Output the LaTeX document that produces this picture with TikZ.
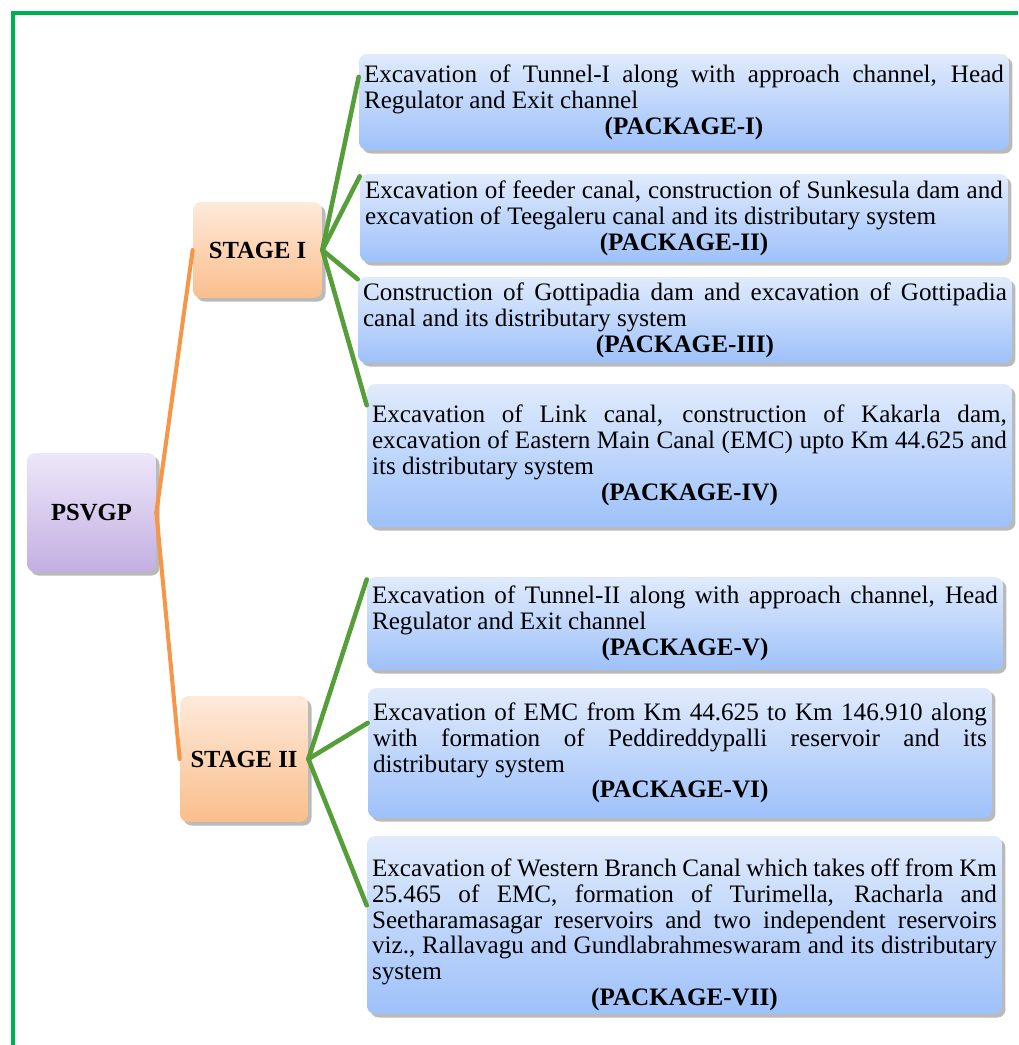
\documentclass[tikz,border=0pt]{standalone}
\usepackage{fontspec}
\setmainfont{Liberation Serif}
\usetikzlibrary{shadows}
\usetikzlibrary{calc}

\definecolor{framegreen}{RGB}{0,176,80}
\definecolor{twiggreen}{RGB}{86,158,58}
\definecolor{branchorange}{RGB}{247,150,70}
\definecolor{pkgtop}{RGB}{224,235,252}
\definecolor{pkgbot}{RGB}{158,193,250}
\definecolor{stagetop}{RGB}{254,234,218}
\definecolor{stagebot}{RGB}{250,190,140}
\definecolor{roottop}{RGB}{237,231,249}
\definecolor{rootbot}{RGB}{195,175,226}

\newcommand\pkgtag[1]{\par{\centering\bfseries #1\par}}

\tikzstyle{box} = [rounded corners=0.16cm, inner xsep=0.1cm, inner ysep=0pt, drop shadow={shadow xshift=2pt, shadow yshift=-2pt, opacity=0.45, fill=black!60}]
\tikzstyle{pkg} = [box, top color=pkgtop, bottom color=pkgbot, align=justify, font=\fontsize{14.3}{14.7}\selectfont]
\tikzstyle{stage} = [box, top color=stagetop, bottom color=stagebot, font=\fontsize{14}{16}\selectfont\bfseries]
\tikzstyle{root} = [box, top color=roottop, bottom color=rootbot, font=\fontsize{14}{16}\selectfont\bfseries]
\tikzstyle{branch} = [branchorange, line width=2.3pt]
\tikzstyle{twig} = [twiggreen, line width=2.6pt]

\begin{document}
\begin{tikzpicture}[x=0.02cm, y=-0.02cm, line cap=round]

  \useasboundingbox (0,0) rectangle (1018,1045);

  % frame
  \draw[framegreen, line width=2.3pt, line cap=butt] (13,1045) -- (13,13) -- (1018,13);

  % root and stages
  \node[root, minimum width=2.58cm, minimum height=2.38cm] (psvgp) at (91.5,512.5) {PSVGP};
  \node[stage, minimum width=2.58cm, minimum height=1.92cm] (stageI) at (257.5,250) {STAGE I};
  \node[stage, minimum width=2.56cm, minimum height=2.52cm] (stageII) at (244,759) {STAGE II};

  % Stage I packages
  \node[pkg, minimum width=13cm, minimum height=1.92cm, text width=12.8cm] (pkgI) at (684,102)
    {Excavation of Tunnel-I along with approach channel, Head\linebreak Regulator and Exit channel\pkgtag{(PACKAGE-I)}};
  \node[pkg, minimum width=12.96cm, minimum height=1.76cm, text width=12.76cm] (pkgII) at (684,218)
    {Excavation of feeder canal, construction of Sunkesula dam and\linebreak excavation of Teegaleru canal and its distributary system\pkgtag{(PACKAGE-II)}};
  \node[pkg, minimum width=13.08cm, minimum height=1.72cm, text width=12.88cm] (pkgIII) at (685,320)
    {Construction of Gottipadia dam and excavation of Gottipadia\linebreak canal and its distributary system\pkgtag{(PACKAGE-III)}};
  \node[pkg, minimum width=12.9cm, minimum height=2.86cm, text width=12.7cm] (pkgIV) at (689.5,455.5)
    {Excavation of Link canal, construction of Kakarla dam,\linebreak excavation of Eastern Main Canal (EMC) upto Km 44.625 and\linebreak its distributary system\pkgtag{(PACKAGE-IV)}};

  % Stage II packages
  \node[pkg, minimum width=12.72cm, minimum height=1.86cm, text width=12.52cm] (pkgV) at (685,623.5)
    {Excavation of Tunnel-II along with approach channel, Head\linebreak Regulator and Exit channel\pkgtag{(PACKAGE-V)}};
  \node[pkg, minimum width=12.48cm, minimum height=2.6cm, text width=12.28cm] (pkgVI) at (680,753)
    {Excavation of EMC from Km 44.625 to Km 146.910 along\linebreak with formation of Peddireddypalli reservoir and its\linebreak distributary system\pkgtag{(PACKAGE-VI)}};
  \node[pkg, minimum width=12.7cm, minimum height=3.56cm, text width=12.5cm] (pkgVII) at (684.5,925)
    {\rule{0pt}{0.75cm}Excavation of Western Branch Canal which takes off from Km\linebreak 25.465 of EMC, formation of Turimella, Racharla and\linebreak Seetharamasagar reservoirs and two independent reservoirs\linebreak viz., Rallavagu and Gundlabrahmeswaram and its distributary\linebreak system\pkgtag{(PACKAGE-VII)}};

  % connectors
  \draw[branch] (psvgp.east) -- (stageI.west);
  \draw[branch] (psvgp.east) -- (stageII.west);

  \draw[twig] (stageI.east) -- ($(pkgI.north west)!0.24!(pkgI.south west)$);
  \draw[twig] (stageI.east) -- ($(pkgII.north west)!0.03!(pkgII.south west)$);
  \draw[twig] (stageI.east) -- ($(pkgIII.north west)!0.03!(pkgIII.south west)$);
  \draw[twig] (stageI.east) -- ($(pkgIV.north west)!0.15!(pkgIV.south west)$);

  \draw[twig] (stageII.east) -- ($(pkgV.north west)!0.03!(pkgV.south west)$);
  \draw[twig] (stageII.east) -- ($(pkgVI.north west)!0.27!(pkgVI.south west)$);
  \draw[twig] (stageII.east) -- ($(pkgVII.north west)!0.39!(pkgVII.south west)$);

\end{tikzpicture}
\end{document}
